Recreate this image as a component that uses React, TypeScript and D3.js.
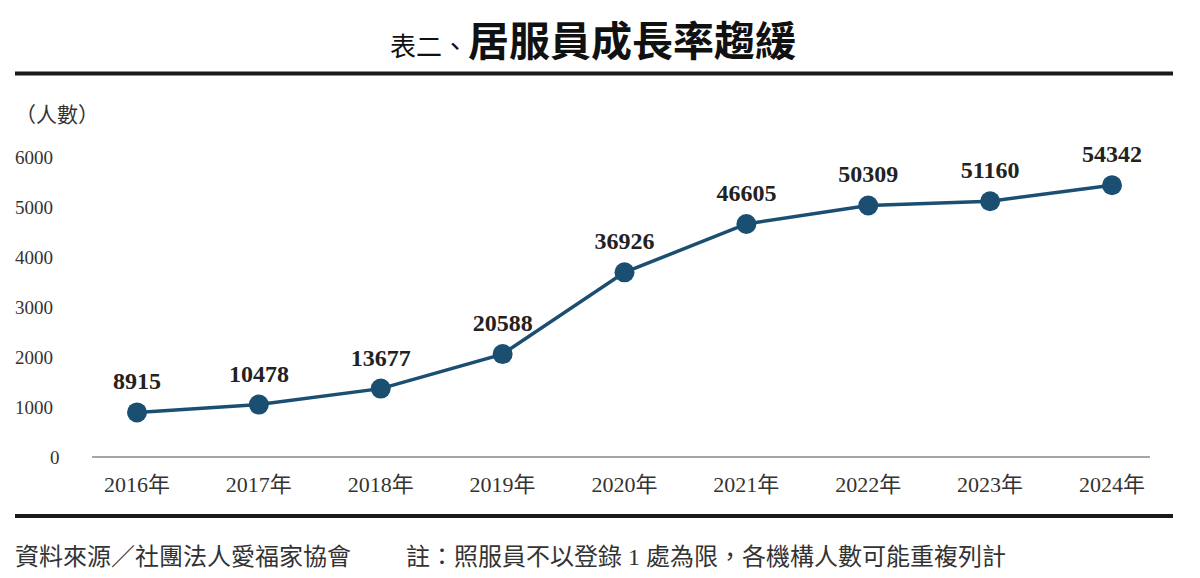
import React from 'react';
import * as d3 from 'd3';

const years = ['2016年', '2017年', '2018年', '2019年', '2020年', '2021年', '2022年', '2023年', '2024年'];
const workers = [8915, 10478, 13677, 20588, 36926, 46605, 50309, 51160, 54342];
const yTicks = [0, 1000, 2000, 3000, 4000, 5000, 6000];

const serif = "'Liberation Serif', 'Noto Sans CJK TC', serif";
const blue = '#1b4f72';

export default function App() {
  const width = 1200;
  const height = 578;

  const x = d3.scalePoint<string>().domain(years).range([137, 1112]);
  // the original plots the counts at one tenth against the 0–6000 axis
  const y = d3.scaleLinear().domain([0, 6000]).range([457, 157]);

  const pts = years.map((yr, i) => ({ yr, v: workers[i] }));
  const line = d3.line<{ yr: string; v: number }>()
    .x(d => x(d.yr) as number)
    .y(d => y(d.v / 10));

  return (
    <svg width={width} height={height} style={{ position: 'absolute', left: 0, top: 0, background: '#fff' }}>
      {/* title */}
      <text x={390} y={56} fontFamily={serif} fill="#111">
        <tspan fontSize={26}>表二、</tspan>
        <tspan fontSize={41} fontWeight="bold">居服員成長率趨緩</tspan>
      </text>
      <line x1={15} x2={1173} y1={73.5} y2={73.5} stroke="#1a1a1a" strokeWidth={4} />

      <text x={15} y={122} fontFamily={serif} fontSize={21} fill="#333">（人數）</text>

      {yTicks.map(t => (
        <text key={t} x={t === 0 ? 50 : 15} y={y(t) + 7} fontFamily={serif} fontSize={19} fill="#333">{t}</text>
      ))}

      <line x1={92} x2={1150} y1={y(0)} y2={y(0)} stroke="#888" strokeWidth={1.5} />

      {years.map(yr => (
        <text key={yr} x={x(yr)} y={492} textAnchor="middle" fontFamily={serif} fontSize={22} fill="#333">{yr}</text>
      ))}

      <path d={line(pts) || ''} fill="none" stroke={blue} strokeWidth={3.5} />
      {pts.map(p => (
        <g key={p.yr}>
          <circle cx={x(p.yr)} cy={y(p.v / 10)} r={10} fill={blue} />
          <text x={x(p.yr)} y={y(p.v / 10) - 23} textAnchor="middle" fontFamily={serif} fontSize={24} fontWeight="bold" fill="#222">{p.v}</text>
        </g>
      ))}

      <line x1={15} x2={1173} y1={516} y2={516} stroke="#1a1a1a" strokeWidth={4} />

      <text x={15} y={565} fontFamily={serif} fontSize={24} fill="#333">資料來源／社團法人愛福家協會</text>
      <text x={406} y={565} fontFamily={serif} fontSize={24} fill="#333">註：照服員不以登錄 1 處為限，各機構人數可能重複列計</text>
    </svg>
  );
}
